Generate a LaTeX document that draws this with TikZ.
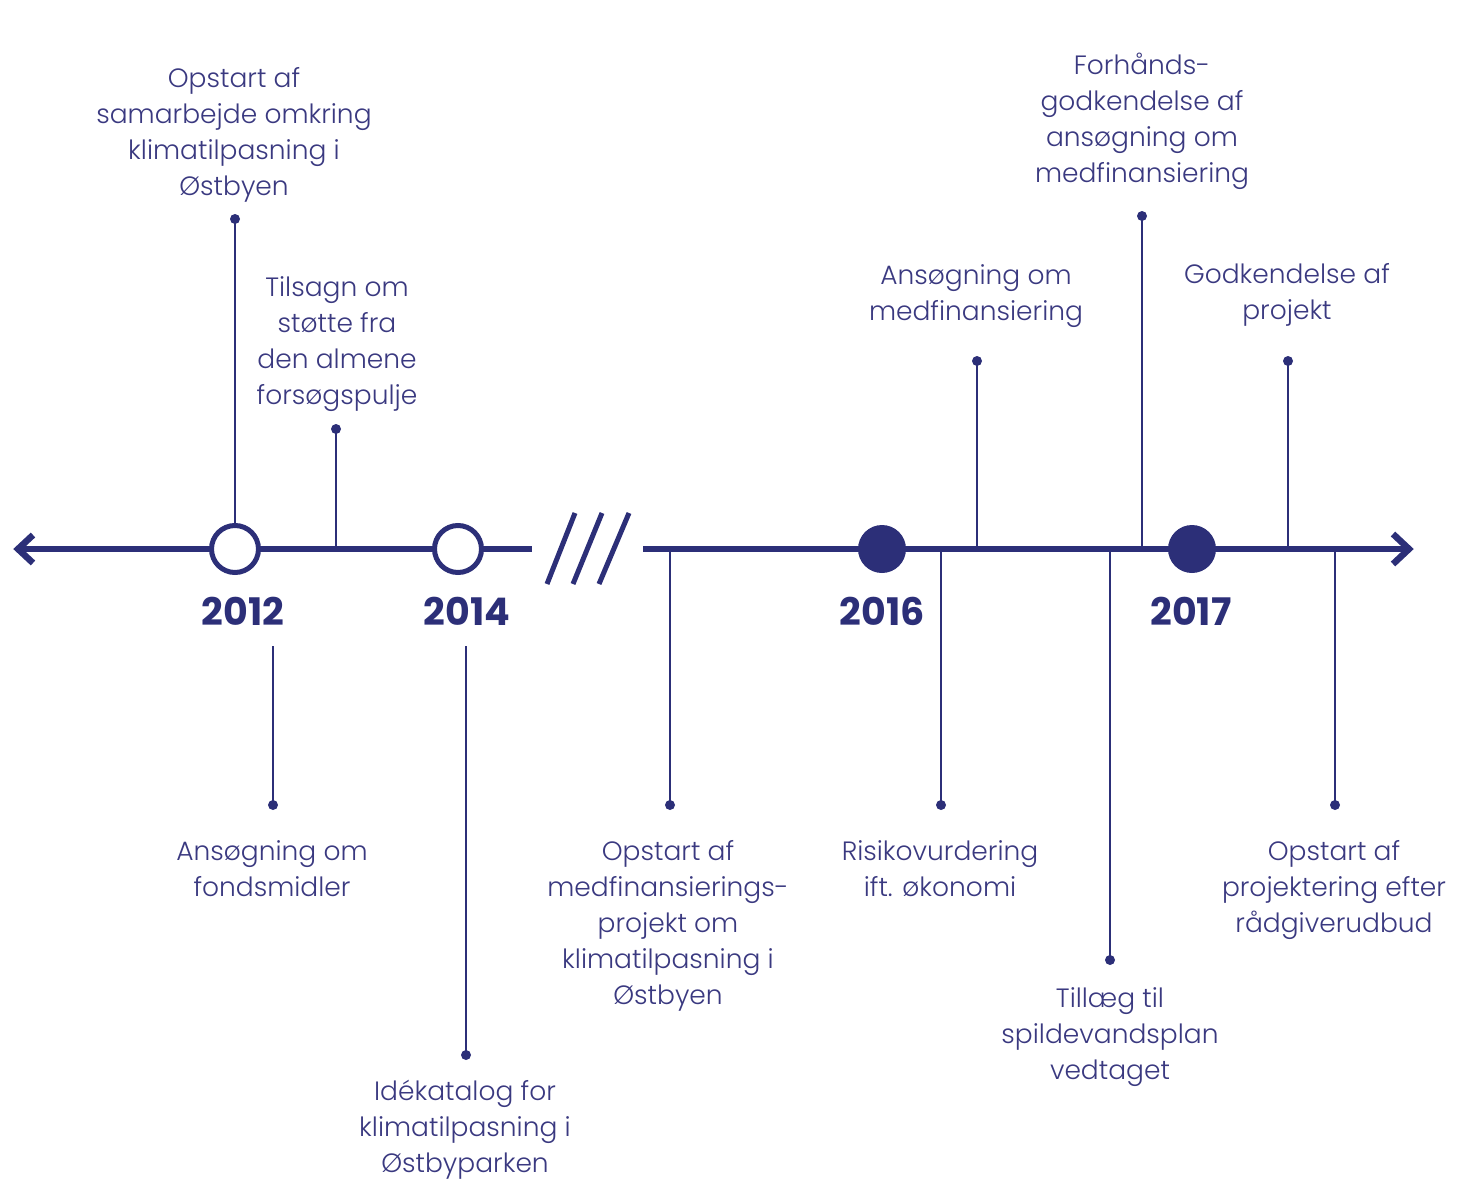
\documentclass[tikz,border=0pt]{standalone}
\usepackage{fontspec}
\setmainfont{Poppins}[UprightFont=* Light, BoldFont=* Bold]
\definecolor{navy}{RGB}{44,47,120}
\definecolor{inkblue}{RGB}{58,57,128}

\begin{document}
\begin{tikzpicture}[x=1pt, y=-1pt,
    axis/.style={draw=navy, line width=6.5pt, line join=miter},
    stem/.style={draw=navy, line width=2.2pt},
    dot/.style={circle, fill=navy, minimum size=10pt, inner sep=0pt},
    year/.style={text=navy, font=\fontsize{38}{40}\selectfont\bfseries, inner sep=0pt},
    event/.style={text=inkblue, font=\fontsize{26.5}{36}\selectfont, align=center, inner sep=0pt, anchor=north},
    open/.style={circle, draw=navy, fill=white, line width=5pt, minimum size=47pt, inner sep=0pt},
    full/.style={circle, fill=navy, minimum size=48pt, inner sep=0pt}]
  \useasboundingbox (0,0) rectangle (1458,1183);

  % time axis, broken between 2014 and 2016
  \coordinate (westtip) at (18,549);
  \coordinate (gapL) at (532,549);
  \coordinate (gapR) at (643,549);
  \coordinate (easttip) at (1409,549);
  \draw[axis] (westtip) -- (gapL);
  \draw[axis] (gapR) -- (easttip);
  \draw[axis] (westtip) ++(15,-14) -- (westtip) -- ++(15,14);
  \draw[axis] (easttip) ++(-16,-15) -- (easttip) -- ++(-16,15);
  \draw[navy, line width=5pt] (547,584) -- (575,513)
                              (573,584) -- (602,513)
                              (599,584) -- (629,513);

  % years
  \node[open] (c2012) at (235,549) {};
  \node[open] (c2014) at (458,549) {};
  \node[full] (c2016) at (882,549) {};
  \node[full] (c2017) at (1192,549) {};
  \node[year] (yr2012) at (243,611) {2012};
  \node[year] (yr2014) at (467,611) {2014};
  \node[year] (yr2016) at (882,611) {2016};
  \node[year] (yr2017) at (1191,611) {2017};

  % events above the axis
  \node[dot] (d1) at (235,219) {};
  \draw[stem] (c2012.north) -- (d1.center);
  \node[event] (e1) at (234,67) {Opstart af\\samarbejde omkring\\klimatilpasning i\\Østbyen};

  \coordinate (t2) at (336,549);
  \node[dot] (d2) at (336,429) {};
  \draw[stem] (t2) -- (d2.center);
  \node[event] (e2) at (337,276) {Tilsagn om\\støtte fra\\den almene\\forsøgspulje};

  \coordinate (t3) at (977,549);
  \node[dot] (d3) at (977,361) {};
  \draw[stem] (t3) -- (d3.center);
  \node[event] (e3) at (976,264) {Ansøgning om\\medfinansiering};

  \coordinate (t4) at (1142,549);
  \node[dot] (d4) at (1142,216) {};
  \draw[stem] (t4) -- (d4.center);
  \node[event] (e4) at (1142,53) {Forhånds-\\godkendelse af\\ansøgning om\\medfinansiering};

  \coordinate (t5) at (1288,549);
  \node[dot] (d5) at (1288,361) {};
  \draw[stem] (t5) -- (d5.center);
  \node[event] (e5) at (1287,263) {Godkendelse af\\projekt};

  % events below the axis
  \coordinate (t6) at (273,646);
  \node[dot] (d6) at (273,805) {};
  \draw[stem] (t6) -- (d6.center);
  \node[event] (e6) at (272,840) {Ansøgning om\\fondsmidler};

  \coordinate (t7) at (466,646);
  \node[dot] (d7) at (466,1055) {};
  \draw[stem] (t7) -- (d7.center);
  \node[event] (e7) at (465,1080) {Idékatalog for\\klimatilpasning i\\Østbyparken};

  \coordinate (t8) at (670,549);
  \node[dot] (d8) at (670,805) {};
  \draw[stem] (t8) -- (d8.center);
  \node[event] (e8) at (668,840) {Opstart af\\medfinansierings-\\projekt om\\klimatilpasning i\\Østbyen};

  \coordinate (t9) at (941,549);
  \node[dot] (d9) at (941,805) {};
  \draw[stem] (t9) -- (d9.center);
  \node[event] (e9) at (940,840) {Risikovurdering\\ift. økonomi};

  \coordinate (t10) at (1110,549);
  \node[dot] (d10) at (1110,960) {};
  \draw[stem] (t10) -- (d10.center);
  \node[event] (e10) at (1110,987) {Tillæg til\\spildevandsplan\\vedtaget};

  \coordinate (t11) at (1335,549);
  \node[dot] (d11) at (1335,805) {};
  \draw[stem] (t11) -- (d11.center);
  \node[event] (e11) at (1334,840) {Opstart af\\projektering efter\\rådgiverudbud};
\end{tikzpicture}
\end{document}
